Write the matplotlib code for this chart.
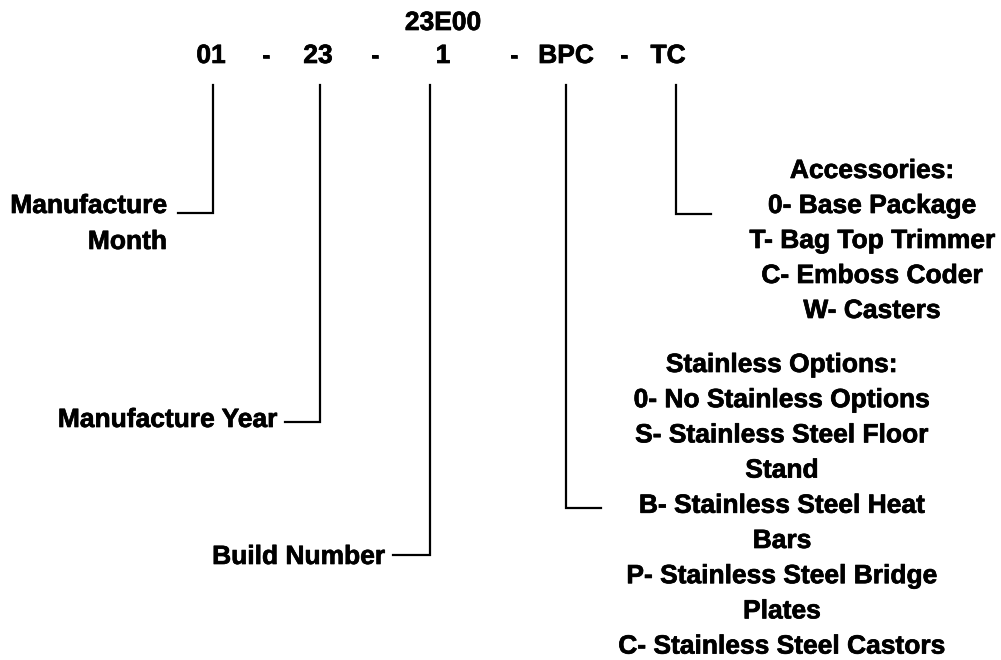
import matplotlib
matplotlib.use("Agg")
import matplotlib.pyplot as plt
import matplotlib.patheffects as pe

plt.rcParams['font.family'] = ['Liberation Sans', 'DejaVu Sans']

# ---- content ----
header_code = "23E00"
code_parts = ["01", "-", "23", "-", "1", "-", "BPC", "-", "TC"]
month_label = ["Manufacture", "Month"]
year_label = ["Manufacture Year"]
build_label = ["Build Number"]
accessories_label = ["Accessories:", "0- Base Package", "T- Bag Top Trimmer",
                     "C- Emboss Coder", "W- Casters"]
stainless_label = ["Stainless Options:", "0- No Stainless Options",
                   "S- Stainless Steel Floor", "Stand",
                   "B- Stainless Steel Heat", "Bars",
                   "P- Stainless Steel Bridge", "Plates",
                   "C- Stainless Steel Castors"]

# ---- layout (pixel coordinates) ----
W, H = 1001, 660
fig = plt.figure(figsize=(W / 100, H / 100), dpi=100)
ax = fig.add_axes([0, 0, 1, 1])
ax.set_xlim(0, W)
ax.set_ylim(H, 0)
ax.axis('off')

FS = 19.0
LW = 1.6
effects = [pe.withStroke(linewidth=0.5, foreground='black')]
txt = dict(fontsize=FS, fontweight='bold', color='black', va='center',
           path_effects=effects)

ax.text(443, 23, header_code, ha='center', **txt)
part_x = [211, 266, 318, 375, 443, 514, 566, 624, 668]
for x, p in zip(part_x, code_parts):
    ax.text(x, 56, p, ha='center', **txt)

top_y = 85
# Manufacture Month
ax.plot([213, 213, 178], [top_y, 213, 213], color='black', lw=LW, solid_joinstyle='miter')
for i, s in enumerate(month_label):
    ax.text(167, 206 + i * 36, s, ha='right', **txt)

# Manufacture Year
ax.plot([320, 320, 285], [top_y, 422, 422], color='black', lw=LW, solid_joinstyle='miter')
ax.text(277, 420, year_label[0], ha='right', **txt)

# Build Number
ax.plot([430, 430, 393], [top_y, 555, 555], color='black', lw=LW, solid_joinstyle='miter')
ax.text(385, 557, build_label[0], ha='right', **txt)

# Stainless options (BPC)
ax.plot([566, 566, 601], [top_y, 508, 508], color='black', lw=LW, solid_joinstyle='miter')
for i, s in enumerate(stainless_label):
    ax.text(782, 365 + i * 35.2, s, ha='center', **txt)

# Accessories (TC)
ax.plot([676, 676, 711], [top_y, 214, 214], color='black', lw=LW, solid_joinstyle='miter')
for i, s in enumerate(accessories_label):
    ax.text(872, 171 + i * 35, s, ha='center', **txt)

fig.savefig("out.png", dpi=100, facecolor='white')
